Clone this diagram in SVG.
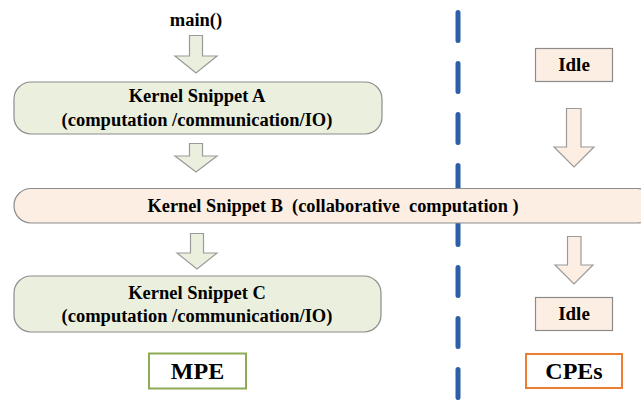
<svg xmlns="http://www.w3.org/2000/svg" width="641" height="401" viewBox="0 0 641 401">
  <style>
    text { font-family: "Liberation Serif", "Times New Roman", serif; font-weight: bold; fill: #000; text-anchor: middle; }
    .pre { white-space: pre; }
    .mpe-box { fill: #ebf0de; stroke: #8c8c8c; stroke-width: 1.2; }
    .cpe-box { fill: #fdeee3; stroke: #8c8c8c; stroke-width: 1.2; }
    .mpe-arrow { fill: #ebf0de; stroke: #9a9a9a; stroke-width: 1.2; }
    .cpe-arrow { fill: #fdeee3; stroke: #9a9a9a; stroke-width: 1.2; }
    .divider { stroke: #2c5fa8; stroke-width: 5; stroke-linecap: round; stroke-dasharray: 28 23; fill: none; }
  </style>

  <!-- dashed separator between MPE and CPE sides -->
  <line class="divider" x1="458" y1="12.5" x2="458" y2="400"/>

  <!-- connectors: block arrows -->
  <g id="connectors">
    <path class="mpe-arrow" d="M189.5,35.5 H202.5 V56 H217 L196,73 L175,56 H189.5 Z"/>
    <path class="mpe-arrow" d="M189.5,143.5 H202.5 V156 H217 L196,172 L175,156 H189.5 Z"/>
    <path class="mpe-arrow" d="M190.5,233.5 H203.5 V253 H217 L197,269 L177,253 H190.5 Z"/>
    <path class="cpe-arrow" d="M566.5,108.5 H581 V147 H594 L574,167 L554,147 H566.5 Z"/>
    <path class="cpe-arrow" d="M567.5,236.5 H581 V265 H593 L574,284 L555,265 H567.5 Z"/>
  </g>

  <g id="main">
    <text x="196" y="26" font-size="18.5">main()</text>
  </g>

  <g id="snippet-a">
    <rect class="mpe-box" x="14" y="82" width="368" height="52" rx="17" ry="17"/>
    <text x="197" y="102" font-size="18.5">Kernel Snippet A</text>
    <text x="197" y="126" font-size="18.5">(computation /communication/IO)</text>
  </g>

  <g id="snippet-b">
    <rect class="cpe-box" x="14" y="188.5" width="640" height="34.5" rx="17" ry="17"/>
    <text class="pre" x="333" y="212" font-size="18" textLength="371" lengthAdjust="spacingAndGlyphs">Kernel Snippet B  (collaborative  computation )</text>
  </g>

  <g id="snippet-c">
    <rect class="mpe-box" x="14" y="276" width="367" height="56" rx="17" ry="17"/>
    <text x="197" y="299" font-size="18.5">Kernel Snippet C</text>
    <text x="197" y="322" font-size="18.5">(computation /communication/IO)</text>
  </g>

  <g id="idle-1">
    <rect class="cpe-box" x="535.5" y="48.5" width="77" height="33"/>
    <text x="574" y="71" font-size="19">Idle</text>
  </g>

  <g id="idle-2">
    <rect class="cpe-box" x="535.5" y="297.5" width="77" height="33"/>
    <text x="574" y="319.5" font-size="19">Idle</text>
  </g>

  <g id="mpe-label">
    <rect x="149" y="353.5" width="97" height="35" fill="#fff" stroke="#8eaa55" stroke-width="2"/>
    <text x="197.5" y="378.5" font-size="24">MPE</text>
  </g>

  <g id="cpe-label">
    <rect x="526" y="354" width="96" height="34" fill="#fff" stroke="#ed7d31" stroke-width="2"/>
    <text x="574" y="378.5" font-size="24">CPEs</text>
  </g>
</svg>
